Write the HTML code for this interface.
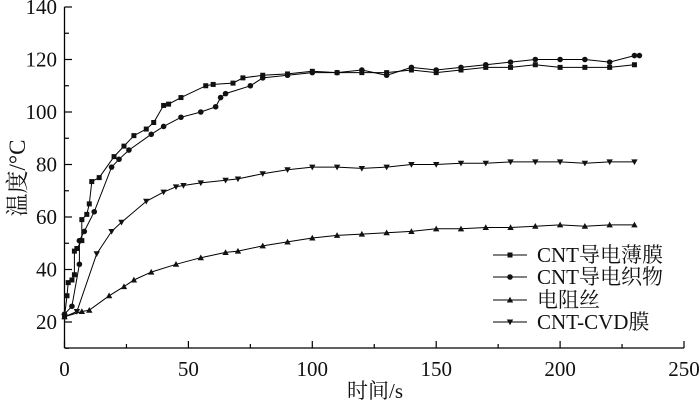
<!DOCTYPE html><html><head><meta charset="utf-8"><style>body{margin:0;background:#fff}svg{display:block}</style></head><body>
<svg id="s" width="700" height="403" viewBox="0 0 700 403" xmlns="http://www.w3.org/2000/svg" font-family="'Liberation Serif','Times New Roman','Noto Serif CJK SC',serif" fill="#111">
<g stroke="#000" stroke-width="1.3" fill="none">
<line x1="64.5" y1="7" x2="64.5" y2="348"/><line x1="64.5" y1="348" x2="684" y2="348"/>
</g>
<g id="ticks" stroke="#000" stroke-width="1.2"></g>
<g font-size="21" text-anchor="end" id="yl"></g>
<g font-size="21" text-anchor="middle" id="xl"></g>
<text x="375" y="398" font-size="21" text-anchor="middle">时间/s</text>
<text transform="translate(25,178) rotate(-90)" font-size="23" text-anchor="middle">温度/°C</text>
<g id="series"></g>
<g id="leg" font-size="21"></g>
</svg>
<script>
var NS="http://www.w3.org/2000/svg",s=document.getElementById('s');
function X(v){return 64.5+v*2.478}function Y(t){return 322-(t-20)*2.625}
function el(p,t,a,txt){var e=document.createElementNS(NS,t);for(var k in a)e.setAttribute(k,a[k]);if(txt)e.textContent=txt;document.getElementById(p).appendChild(e);return e}
for(var t=10;t<=140;t+=10){var y=Y(t);el('ticks','line',{x1:64.5,x2:t%20==0?72:69,y1:y,y2:y});if(t%20==0&&t>=20)el('yl','text',{x:57,y:y+7},String(t))}
for(var v=0;v<=250;v+=25){var x=X(v);el('ticks','line',{x1:x,x2:x,y1:348,y2:v%50==0?341:344});if(v%50==0)el('xl','text',{x:x,y:376},String(v))}
var D=[
[[0,22],[1,30],[1.5,35],[3,36],[4,38],[4,47],[5,48],[7,51],[7,59],[9,61],[10,65],[11,73.5],[14,75],[20,83],[24,87],[28,91],[33,93.5],[36,96],[40,102.5],[42,103],[47,105.5],[57,110],[60,110.5],[68,111],[72,113],[80,114],[90,114.5],[100,115.5],[110,115],[120,115],[130,115],[140,116],[150,115],[160,116],[170,117],[180,117],[190,118],[200,117],[210,117],[220,117],[230,118]],
[[0,23],[3,26],[6,42],[6,51],[8,54.5],[12,62],[19,79],[22,82],[26,85.5],[35,91.5],[40,94.5],[47,98],[55,100],[61,102],[63,105.5],[65,107],[75,110],[80,113],[90,114],[100,115],[110,115],[120,116],[130,114],[140,117],[150,116],[160,117],[170,118],[180,119],[190,120],[200,120],[210,120],[220,119],[230,121.5],[232,121.5]],
[[0,22],[7,24],[10,24.5],[18,30],[24,33.5],[28,36],[35,39],[45,42],[55,44.5],[65,46.5],[70,47],[80,49],[90,50.5],[100,52],[110,53],[120,53.5],[130,54],[140,54.5],[150,55.5],[160,55.5],[170,56],[180,56],[190,56.5],[200,57],[210,56.5],[220,57],[230,57]],
[[0,22],[5,24],[13,46],[19,54.5],[23,58],[33,66],[40,69.5],[45,71.5],[48,72],[55,73],[65,74],[70,74.5],[80,76.5],[90,78],[100,79],[110,79],[120,78.5],[130,79],[140,80],[150,80],[160,80.5],[170,80.5],[180,81],[190,81],[200,81],[210,80.5],[220,81],[230,81]]];
function mk(g,k,x,y){if(k==0)el(g,'rect',{x:x-2.5,y:y-2.5,width:5,height:5});else if(k==1)el(g,'circle',{cx:x,cy:y,r:2.8});else if(k==2)el(g,'polygon',{points:(x-3.2)+','+(y+2.5)+' '+(x+3.2)+','+(y+2.5)+' '+x+','+(y-3.2)});else el(g,'polygon',{points:(x-3.2)+','+(y-2.5)+' '+(x+3.2)+','+(y-2.5)+' '+x+','+(y+3.2)})}
D.forEach(function(d,k){var p=d.map(function(q){return X(q[0]).toFixed(1)+','+Y(q[1]).toFixed(1)}).join(' ');el('series','polyline',{points:p,fill:'none',stroke:'#000','stroke-width':1});d.forEach(function(q){mk('series',k,X(q[0]),Y(q[1]))})});
var L=['CNT导电薄膜','CNT导电织物','电阻丝','CNT-CVD膜'],LY=[255,277,300,322];
L.forEach(function(t,i){el('leg','line',{x1:493,x2:527,y1:LY[i],y2:LY[i],stroke:'#000','stroke-width':1});mk('leg',i,510,LY[i]);el('leg','text',{x:537,y:LY[i]+7},t)});
</script>
</body></html>
